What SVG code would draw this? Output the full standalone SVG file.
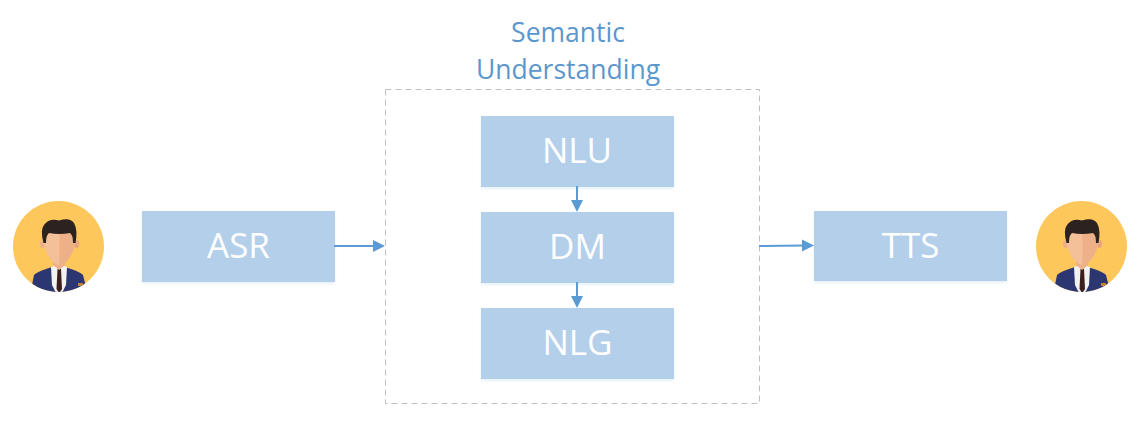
<svg xmlns="http://www.w3.org/2000/svg" width="1137" height="429" viewBox="0 0 1137 429">
<style>
.box{fill:#b3cfea;filter:url(#sh)}
.lbl{font-family:"Open Sans","Noto Sans","DejaVu Sans",sans-serif;font-size:35px;fill:#fff;text-anchor:middle}
.cap{font-family:"Open Sans","Noto Sans","DejaVu Sans",sans-serif;font-size:26.500px;fill:#5b97cc;text-anchor:middle}
.con{stroke:#5b9bd5;stroke-width:2;fill:none}
.head{fill:#5b9bd5}
</style>
<defs>
<filter id="sh" x="-5%" y="-10%" width="110%" height="125%"><feDropShadow dx="0" dy="2" stdDeviation="1.500" flood-color="#b3cfea" flood-opacity=".3"/></filter>
<clipPath id="cl"><circle cx="45.500" cy="45.500" r="45.500"/></clipPath>
<g id="person">
<circle cx="45.500" cy="45.500" r="45.500" fill="#fdc75b"/>
<g clip-path="url(#cl)">
<path d="M19 84 L21 74 Q24 71 33 68 L45 64 L58 68 Q67 71 70 74 L73 86 Q60 92 46 92 Q32 92 19 84Z" fill="#2c3670"/>
<path d="M38 66 L46 63 L54 66 L53 84 L49 92 L43 92 L39 84Z" fill="#f2f2f2"/>
<path d="M44.500 68 H48 L49 88 L46.300 92 L43.500 88Z" fill="#3a1f1c"/>
<path d="M40 56 H52 V64 L46 69 L40 64Z" fill="#eeb088"/>
<ellipse cx="29.500" cy="43" rx="2.500" ry="4" fill="#eeb088"/>
<ellipse cx="63.500" cy="43" rx="2.500" ry="4" fill="#e9a67c"/>
<path d="M31 30 H46.500 V64 Q43 64 40 61 Q32 53 31 42Z" fill="#f4c09a"/>
<path d="M46.500 30 H62 V42 Q61 53 53 61 Q50 64 46.500 64Z" fill="#eeb088"/>
<path d="M30.500 42 Q27 29 31 24 Q36 17 46 19.500 Q57 16 61 22 Q65 29 62.500 42 L60 42 Q60 34 57 32 Q46 34 36 32 Q33 34 33 42Z" fill="#2c2220"/>
<rect x="65" y="82" width="5" height="3" fill="#c9803a"/>
</g>
</g>
</defs>
<g id="user-left"><use href="#person" x="13" y="201"/></g>
<g id="user-right"><use href="#person" x="1036" y="201"/></g>
<g id="group-semantic">
<rect x="385.500" y="89.500" width="374" height="314" fill="none" stroke="#bfbfbf" stroke-dasharray="6 4"/>
<text class="cap" x="568" y="42">Semantic</text>
<text class="cap" x="568" y="79">Understanding</text>
</g>
<g id="asr"><rect class="box" x="142" y="211" width="193" height="71"/><text class="lbl" x="238.500" y="258">ASR</text></g>
<g id="nlu"><rect class="box" x="481" y="116" width="193" height="71"/><text class="lbl" x="577" y="163">NLU</text></g>
<g id="dm"><rect class="box" x="481" y="212" width="193" height="71"/><text class="lbl" x="577.500" y="259">DM</text></g>
<g id="nlg"><rect class="box" x="481" y="308" width="193" height="71"/><text class="lbl" x="577.500" y="355">NLG</text></g>
<g id="tts"><rect class="box" x="814" y="211" width="193" height="70"/><text class="lbl" x="910.500" y="258">TTS</text></g>
<g id="connectors">
<path class="con" d="M334 246 H374"/><path class="head" d="M373 240 L385 246 L373 252Z"/>
<path class="con" d="M759 246 L804 245.500"/><path class="head" d="M802 239.500 L814 245.500 L802 251.500Z"/>
<path class="con" d="M577 186 V201"/><path class="head" d="M571 200 L577 212 L583 200Z"/>
<path class="con" d="M577 282 V297"/><path class="head" d="M571 296 L577 308 L583 296Z"/>
</g>
</svg>
